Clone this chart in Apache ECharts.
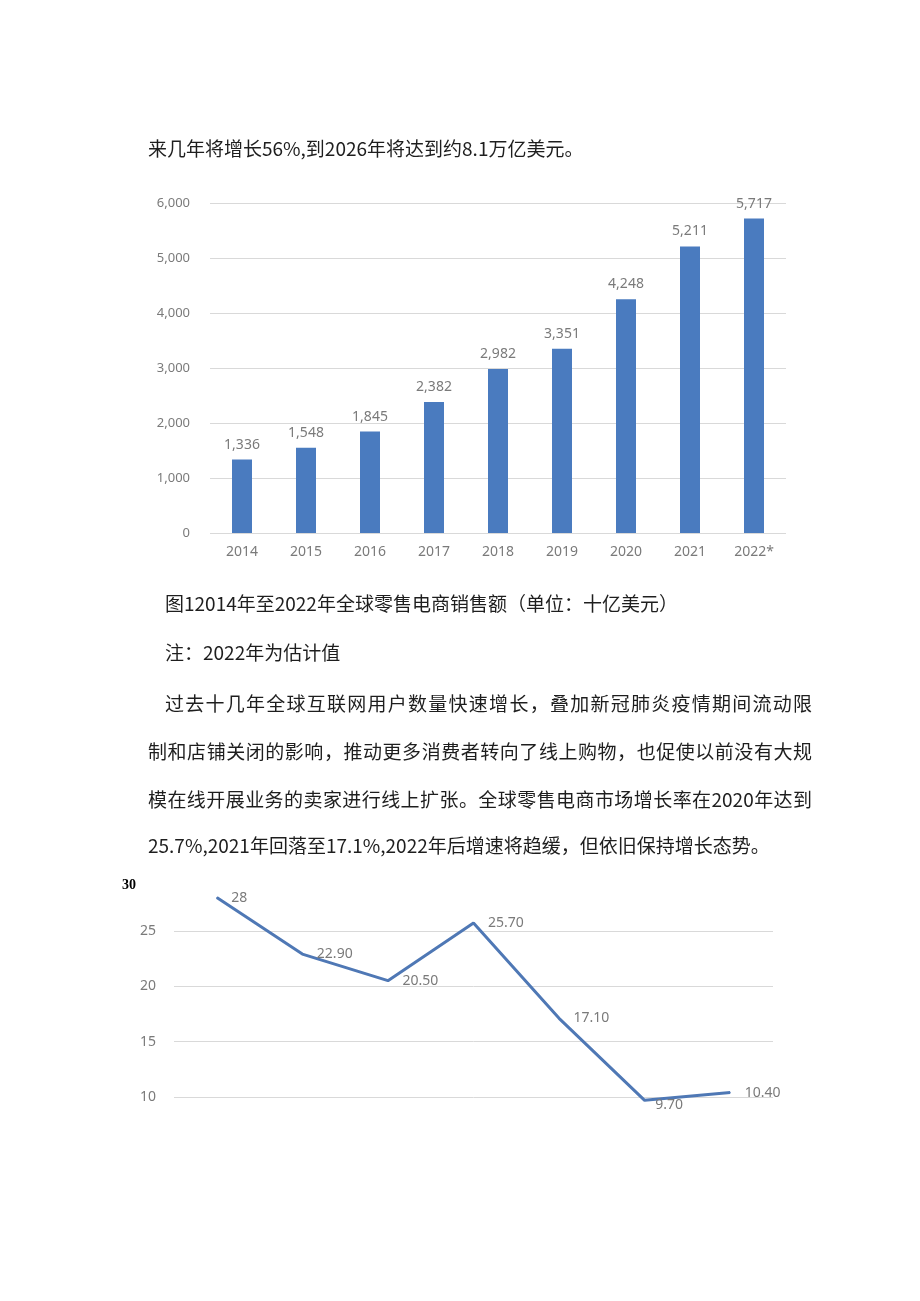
<!DOCTYPE html>
<html>
<head>
<meta charset="utf-8">
<script src="https://cdn.jsdelivr.net/npm/echarts@6/dist/echarts.min.js"></script>
<style>
  html, body { margin: 0; padding: 0; background: #fff; }
  #page { position: relative; width: 920px; height: 1301px; overflow: hidden; }
  #chart { position: absolute; left: 0; top: 0; width: 920px; height: 1301px; }
  .t { position: absolute; font-family: "Noto Sans CJK SC", sans-serif; font-size: 19px; color: #1e1e1e; line-height: 30px; white-space: nowrap; }
  .j { text-align: justify; text-align-last: justify; white-space: normal; }
</style>
</head>
<body>
<div id="page">
  <div id="chart"></div>
  <div class="t" style="left:148px; top:133px;">来几年将增长56%,到2026年将达到约8.1万亿美元。</div>
  <div class="t" style="left:165px; top:588px;">图12014年至2022年全球零售电商销售额（单位：十亿美元）</div>
  <div class="t" style="left:165px; top:637px;">注：2022年为估计值</div>
  <div class="t j" style="left:165px; top:688px; width:647px;">过去十几年全球互联网用户数量快速增长，叠加新冠肺炎疫情期间流动限</div>
  <div class="t j" style="left:148px; top:736px; width:664px;">制和店铺关闭的影响，推动更多消费者转向了线上购物，也促使以前没有大规</div>
  <div class="t j" style="left:148px; top:784px; width:664px;">模在线开展业务的卖家进行线上扩张。全球零售电商市场增长率在2020年达到</div>
  <div class="t" style="left:148px; top:830px;">25.7%,2021年回落至17.1%,2022年后增速将趋缓，但依旧保持增长态势。</div>
</div>
<script>
// Bar chart data: global retail e-commerce sales (billion USD)
var barYears = ['2014', '2015', '2016', '2017', '2018', '2019', '2020', '2021', '2022*'];
var barValues = [1336, 1548, 1845, 2382, 2982, 3351, 4248, 5211, 5717];
var barTicks = [0, 1000, 2000, 3000, 4000, 5000, 6000];

// Line chart data: growth rate (%)
var lineCats = ['2016', '2017', '2018', '2019', '2020', '2021', '2022'];
var lineValues = [28, 22.9, 20.5, 25.7, 17.1, 9.7, 10.4];
var lineLabels = ['28', '22.90', '20.50', '25.70', '17.10', '9.70', '10.40'];
var lineTicks = [10, 15, 20, 25, 30];

function fmt(v) { return String(v).replace(/\B(?=(\d{3})+(?!\d))/g, ','); }

var gray = '#7a7a7a';
var font = 'Noto Sans';
var chart = echarts.init(document.getElementById('chart'), null, { renderer: 'canvas' });
chart.setOption({
  animation: false,
  backgroundColor: 'transparent',
  grid: [
    { left: 210, top: 203, width: 576, height: 330, containLabel: false },
    { left: 174, top: 875.4, width: 599, height: 221.6, containLabel: false }
  ],
  xAxis: [
    {
      gridIndex: 0, type: 'category', data: barYears,
      axisLine: { show: false }, axisTick: { show: false },
      axisLabel: { color: gray, fontFamily: font, fontSize: 14, margin: 12 }
    },
    {
      gridIndex: 1, type: 'category', data: lineCats, boundaryGap: true,
      axisLine: { show: false }, axisTick: { show: false }, axisLabel: { show: false }
    }
  ],
  yAxis: [
    {
      gridIndex: 0, type: 'value', min: barTicks[0], max: barTicks[barTicks.length - 1], interval: 1000,
      axisLine: { show: false }, axisTick: { show: false },
      axisLabel: { color: gray, fontFamily: font, fontSize: 13, margin: 20, formatter: function (v) { return fmt(v); } },
      splitLine: { lineStyle: { color: '#d9d9d9', width: 1 } }
    },
    {
      gridIndex: 1, type: 'value', min: lineTicks[0], max: lineTicks[lineTicks.length - 1], interval: 5,
      axisLine: { show: false }, axisTick: { show: false },
      axisLabel: {
        margin: 18,
        formatter: function (v) { return v === 30 ? '{t|30}' : '{g|' + v + '}'; },
        rich: {
          g: { color: gray, fontFamily: font, fontSize: 14 },
          t: { color: '#000', fontFamily: 'Liberation Serif', fontWeight: 'bold', fontSize: 14, padding: [20, 20, 0, 0] }
        }
      },
      splitLine: { lineStyle: { color: ['#d9d9d9', '#d9d9d9', '#d9d9d9', '#d9d9d9', 'rgba(0,0,0,0)'], width: 1 } }
    }
  ],
  series: [
    {
      type: 'bar', xAxisIndex: 0, yAxisIndex: 0, data: barValues, barWidth: 20,
      itemStyle: { color: '#4a7bbf' },
      label: { show: true, position: 'top', distance: 8, color: gray, fontFamily: font, fontSize: 14,
        formatter: function (p) { return fmt(p.value); } }
    },
    {
      type: 'line', xAxisIndex: 1, yAxisIndex: 1, clip: false,
      data: lineValues.map(function (v, i) {
        var d = { value: v };
        if (i === 5) d.label = { offset: [-4, 5] };
        return d;
      }),
      showSymbol: true, symbol: 'circle', symbolSize: 1,
      itemStyle: { color: '#4f78b5' },
      lineStyle: { color: '#4f78b5', width: 3 },
      label: { show: true, position: 'right', distance: 14, color: gray, fontFamily: font, fontSize: 14,
        formatter: function (p) { return lineLabels[p.dataIndex]; } }
    }
  ]
});
</script>
</body>
</html>
